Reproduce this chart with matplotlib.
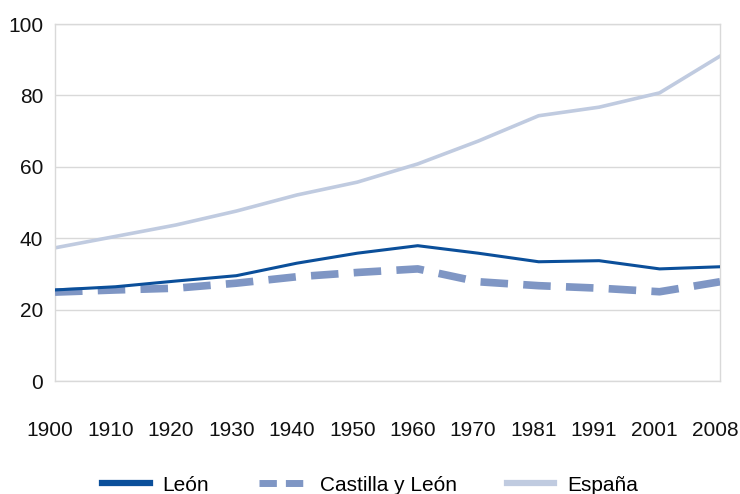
import numpy as np
import matplotlib.pyplot as plt
import matplotlib.transforms as mtransforms

plt.rcParams['font.family'] = ['Liberation Sans', 'DejaVu Sans']

years = ['1900', '1910', '1920', '1930', '1940', '1950', '1960', '1970', '1981', '1991', '2001', '2008']
leon = [25.5, 26.4, 28.0, 29.5, 33.0, 35.8, 37.9, 35.8, 33.4, 33.7, 31.4, 32.0]
castilla = [24.9, 25.5, 26.0, 27.4, 29.2, 30.4, 31.4, 27.8, 26.7, 26.0, 25.0, 27.8]
espana = [37.3, 40.5, 43.7, 47.6, 52.1, 55.7, 60.8, 67.2, 74.3, 76.7, 80.7, 91.0]

fig = plt.figure(figsize=(7.4, 4.94), dpi=100)
ax = fig.add_axes([55/740, 1 - 381/494, 665/740, 357/494])

x = np.arange(len(years))
ax.plot(x, leon, color='#0B4F9A', lw=2.2, label='León', zorder=4)
ax.plot(x, castilla, color='#7F96C4', lw=5.5, dashes=(3.6, 2), label='Castilla y León', zorder=3)
ax.plot(x, espana, color='#C0CBE0', lw=2.6, label='España', zorder=2)

ax.set_xlim(0, len(years) - 1)
ax.set_ylim(0, 100)
ax.set_xticks(x)
ax.set_xticklabels(years)
ax.set_yticks(np.arange(0, 101, 20))
ax.tick_params(axis='both', length=0, labelsize=15, colors='#111111')
ax.tick_params(axis='x', pad=28.5)
ax.tick_params(axis='y', pad=8.5)
ax.grid(axis='y', color='#D9D9D9', lw=1)
ax.set_axisbelow(True)
for s in ax.spines.values():
    s.set_color('#D9D9D9')
    s.set_linewidth(1)

# x labels sit slightly left of the data points in the original
shift = mtransforms.ScaledTranslation(-5/100, 0, fig.dpi_scale_trans)
for lbl in ax.get_xticklabels():
    lbl.set_transform(lbl.get_transform() + shift)

leg = fig.legend(loc='center', bbox_to_anchor=(0.5, 1 - 485/494), ncol=3, frameon=False,
                 fontsize=15, handlelength=2.3, columnspacing=2.4, handletextpad=0.6)
for h, w in zip(leg.get_lines(), [4.5, 5, 4.5]):
    h.set_linewidth(w)
leg.get_lines()[1].set_dashes((2.5, 1.3))

fig.savefig('out.png', dpi=100)
